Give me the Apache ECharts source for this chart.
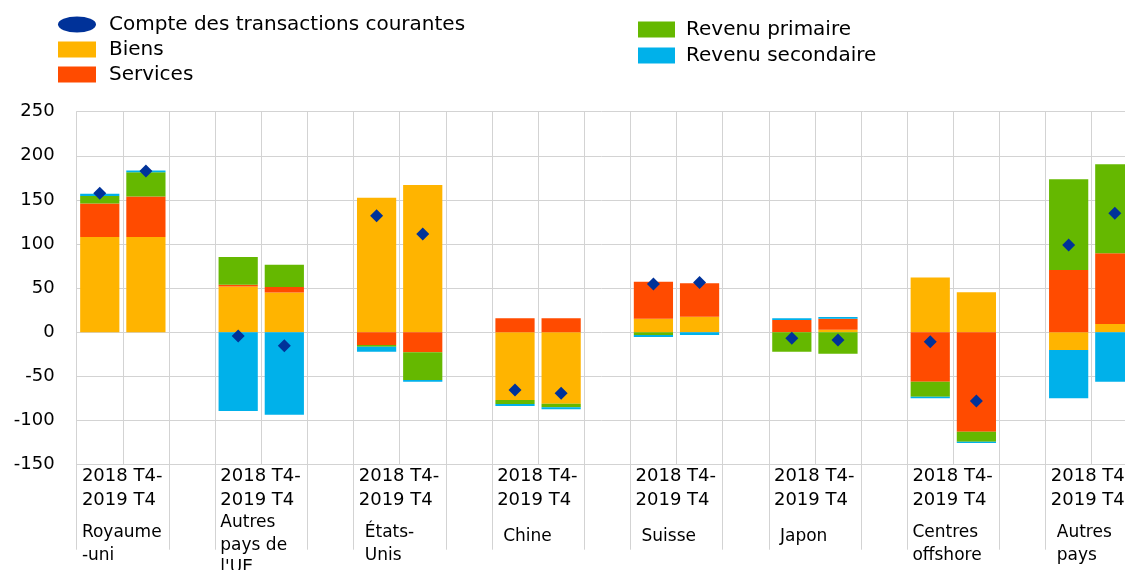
<!DOCTYPE html>
<html><head><meta charset="utf-8">
<script src="https://cdn.jsdelivr.net/npm/echarts@6/dist/echarts.min.js"></script>
<style>html,body{margin:0;padding:0;background:#fff;overflow:hidden;} #c{width:1125px;height:570px;}</style>
</head><body><div id="c"></div>
<script>
// ---- data ----
const groups = ['Royaume\n-uni', "Autres\npays de\nl'UE", 'États-\nUnis', 'Chine', 'Suisse', 'Japon', 'Centres\noffshore', 'Autres\npays'];
const periods = ['2018 T4', '2019 T4'];
// values per group, in order [2018 T4, 2019 T4]
const biens            = [108, 108,   52, 45,     152.5, 167,   -76.7, -80.9,  15.5, 17.7,  0, 3,        62, 45.3,     -20, 9.4];
const services         = [38, 46,     2, 6.4,     -14.4, -22.7, 15.9, 15.9,    41.8, 37.8,  13.9, 12.5,  -56, -112.6,  70.6, 80.1];
const revenuPrimaire   = [8.6, 27.5,  31.4, 25.3, -2, -31.3,    -4.6, -4.1,    -3, 0,       -22, -24.2,  -17, -11.4,   102.8, 100.9];
const revenuSecondaire = [2.3, 2,     -89.2, -93.3, -5.7, -2,   -2.3, -2.3,    -2.2, -3,    2, 1.8,      -1.8, -1.5,   -54.8, -56];
const compteCourant    = [157.5, 182.8, -4.2, -15.2, 132.2, 111.4, -65.4, -69.1, 54.7, 56.6, -6.8, -8.7, -10.6, -77.9, 98.9, 134.9];
const yMin = -150, yMax = 250, yStep = 50;

// ---- styling ----
const FONT = 'DejaVu Sans';
const GRID_COLOR = '#d3d3d3';
const nameIndent = [0, 0, 1, 1, 1, 1, 0, 1];

// one slot per bar plus one empty gap slot per group
const slotCats = [];
groups.forEach((g, i) => {
  periods.forEach(p => slotCats.push(g.replace(/\n/g, ' ') + ' ' + p));
  slotCats.push('gap' + i);
});
function toSlots(arr) {
  const out = [];
  for (let g = 0; g < groups.length; g++) {
    for (let k = 0; k < periods.length; k++) out.push(arr[g * periods.length + k]);
    out.push('-');
  }
  return out;
}

const chart = echarts.init(document.getElementById('c'), null, {renderer: 'canvas'});
const barSeries = (name, arr, color) => ({
  name, type: 'bar', stack: 'total', xAxisIndex: 0, yAxisIndex: 0,
  barCategoryGap: '15%', data: toSlots(arr), itemStyle: {color},
  emphasis: {disabled: true}
});
const ellipse = 'path://M0,8A19,8,0,1,1,38,8A19,8,0,1,1,0,8Z';

chart.setOption({
  animation: false,
  textStyle: {fontFamily: FONT},
  grid: {left: 76.7, top: 111.7, right: -59, bottom: 105.3, containLabel: false, outerBoundsMode: 'none'},
  legend: [
    {orient: 'vertical', left: 53, top: 9.5, itemWidth: 38, itemHeight: 16, itemGap: 5, selectedMode: false,
     textStyle: {fontFamily: FONT, fontSize: 20, color: '#000', padding: [0, 0, 0, 8]},
     data: [{name: 'Compte des transactions courantes', icon: ellipse, itemStyle: {color: '#003299', opacity: 1}},
            {name: 'Biens', icon: 'rect'}, {name: 'Services', icon: 'rect'}]},
    {orient: 'vertical', left: 633, top: 14.5, itemWidth: 37, itemHeight: 16, itemGap: 6, selectedMode: false,
     textStyle: {fontFamily: FONT, fontSize: 20, color: '#000', padding: [0, 0, 0, 6]},
     data: [{name: 'Revenu primaire', icon: 'rect'}, {name: 'Revenu secondaire', icon: 'rect'}]}
  ],
  xAxis: [
    {type: 'category', data: slotCats, position: 'bottom', boundaryGap: true,
     axisLine: {onZero: false, lineStyle: {color: GRID_COLOR, width: 1}},
     axisTick: {show: true, interval: (i) => i % 3 !== 1, length: 85, lineStyle: {color: GRID_COLOR, width: 1}},
     axisLabel: {show: false},
     splitLine: {show: true, interval: 0, lineStyle: {color: GRID_COLOR, width: 1}}},
    {type: 'category', data: groups, position: 'bottom', offset: 0, boundaryGap: true,
     axisLine: {show: false}, axisTick: {show: false}, splitLine: {show: false},
     axisLabel: {
       interval: 0, margin: 0, color: '#000', fontFamily: FONT, fontSize: 17, align: 'center',
       formatter: function (value, idx) {
         const lines = value.split('\n');
         const pad = nameIndent[idx] ? '{pad| }' : '';
         let s = periods.map((p, k) => '{p|' + p + (k < periods.length - 1 ? '-' : '') + '}').join('\n');
         if (lines.length === 1) s += '\n{s1| }';
         else if (lines.length === 2) s += '\n{s2| }';
         s += '\n' + lines.map(l => pad + '{n|' + l + '}').join('\n');
         return s;
       },
       rich: {
         p: {fontFamily: FONT, fontSize: 18, lineHeight: 23.5, width: 128, align: 'left', color: '#000'},
         n: {fontFamily: FONT, fontSize: 17, lineHeight: 22.5, align: 'left', color: '#000'},
         pad: {fontFamily: FONT, fontSize: 17, lineHeight: 22.5, width: 6, align: 'left'},
         s1: {fontSize: 1, lineHeight: 14},
         s2: {fontSize: 1, lineHeight: 10}
       }
     }}
  ],
  yAxis: {
    type: 'value', min: yMin, max: yMax, interval: yStep,
    axisLine: {show: true, lineStyle: {color: GRID_COLOR, width: 1}},
    axisTick: {show: false},
    splitLine: {show: true, lineStyle: {color: GRID_COLOR, width: 1}},
    axisLabel: {fontFamily: FONT, fontSize: 18, color: '#000', margin: 22}
  },
  series: [
    barSeries('Biens', biens, '#FFB400'),
    barSeries('Services', services, '#FF4B00'),
    barSeries('Revenu primaire', revenuPrimaire, '#65B800'),
    barSeries('Revenu secondaire', revenuSecondaire, '#00B1EA'),
    {name: 'Compte des transactions courantes', type: 'scatter', xAxisIndex: 0, yAxisIndex: 0,
     symbol: 'diamond', symbolSize: 13, z: 5, data: toSlots(compteCourant),
     itemStyle: {color: '#003299', opacity: 1}, emphasis: {disabled: true}}
  ]
});
</script>
</body></html>
